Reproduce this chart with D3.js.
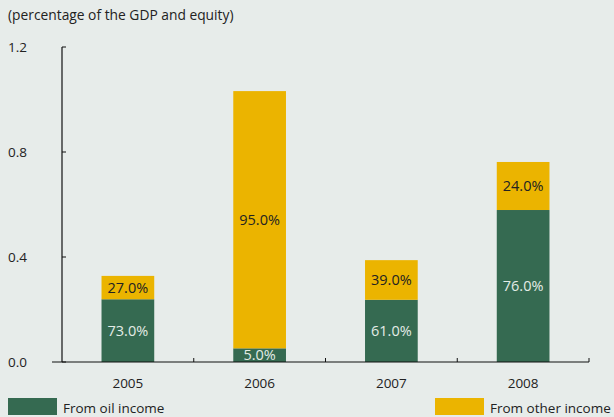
<!DOCTYPE html>
<html><head><meta charset="utf-8">
<script src="https://cdn.jsdelivr.net/npm/d3@7"></script>
<style>body{margin:0;background:#e7ecea;}svg{display:block;}</style>
</head><body>
<svg id="c" width="614" height="417"></svg>
<script>
const years = ["2005","2006","2007","2008"];
const oilValues = [0.239, 0.052, 0.237, 0.579];
const otherValues = [0.089, 0.980, 0.151, 0.183];
const oilLabels = ["73.0%","5.0%","61.0%","76.0%"];
const otherLabels = ["27.0%","95.0%","39.0%","24.0%"];
const yTicks = [0, 0.4, 0.8, 1.2];
const yTickLabels = ["0.0","0.4","0.8","1.2"];
const seriesNames = ["From oil income","From other income"];
const colors = ["#356a51","#ebb400"];

const svg = d3.select("#c");
const font = "'Open Sans', Lato, sans-serif";
svg.append("rect").attr("width",614).attr("height",417).attr("fill","#e7ecea");

const x = d3.scaleBand().domain(years).range([62,589]).paddingInner(0.6).paddingOuter(0.3);
const xb = d3.scaleBand().domain(years).range([62,589]);
const y = d3.scaleLinear().domain([0,1.2]).range([362,47]);

const g = svg.append("g");
years.forEach((yr,i)=>{
  const o = oilValues[i], t = oilValues[i]+otherValues[i];
  g.append("rect").attr("x",x(yr)).attr("width",x.bandwidth())
    .attr("y",y(o)).attr("height",y(0)-y(o)).attr("fill",colors[0]);
  g.append("rect").attr("x",x(yr)).attr("width",x.bandwidth())
    .attr("y",y(t)).attr("height",y(o)-y(t)).attr("fill",colors[1]);
  const cx = x(yr)+x.bandwidth()/2;
  g.append("text").attr("x",cx).attr("y",(y(0)+y(o))/2+5)
    .attr("text-anchor","middle").attr("fill","#e4ece6")
    .style("font-family",font).style("font-size","14.5px").text(oilLabels[i]);
  g.append("text").attr("x",cx).attr("y",(y(o)+y(t))/2+5)
    .attr("text-anchor","middle").attr("fill","#222")
    .style("font-family",font).style("font-size","14.5px").text(otherLabels[i]);
});

svg.append("line").attr("x1",62).attr("x2",62).attr("y1",y(1.2)).attr("y2",y(0))
  .attr("stroke","#111").attr("stroke-width",1.2);
yTicks.forEach((v,i)=>{
  svg.append("line").attr("x1",62).attr("x2",66).attr("y1",y(v)).attr("y2",y(v))
    .attr("stroke","#111").attr("stroke-width",1);
  svg.append("text").attr("x",8).attr("y",y(v)+5).attr("fill","#222")
    .style("font-family",font).style("font-size","13.5px").text(yTickLabels[i]);
});
svg.append("line").attr("x1",52).attr("x2",589).attr("y1",y(0)).attr("y2",y(0))
  .attr("stroke","#111").attr("stroke-width",1.2);
years.slice(1).forEach(yr=>{
  svg.append("line").attr("x1",xb(yr)).attr("x2",xb(yr)).attr("y1",y(0)).attr("y2",y(0)-4)
    .attr("stroke","#111");
});
svg.append("line").attr("x1",589).attr("x2",589).attr("y1",y(0)).attr("y2",y(0)-4).attr("stroke","#111");
years.forEach(yr=>{
  svg.append("text").attr("x",xb(yr)+xb.bandwidth()/2).attr("y",388)
    .attr("text-anchor","middle").attr("fill","#222")
    .style("font-family",font).style("font-size","13.5px").text(yr);
});

svg.append("text").attr("x",8).attr("y",20).attr("fill","#222")
  .style("font-family",font).style("font-size","13.8px").text("(percentage of the GDP and equity)");

const legX = [8,435];
seriesNames.forEach((n,i)=>{
  svg.append("rect").attr("x",legX[i]).attr("y",398).attr("width",49).attr("height",17).attr("fill",colors[i]);
  svg.append("text").attr("x",legX[i]+55).attr("y",413).attr("fill","#222")
    .style("font-family",font).style("font-size","13.5px").text(n);
});
</script>
</body></html>
